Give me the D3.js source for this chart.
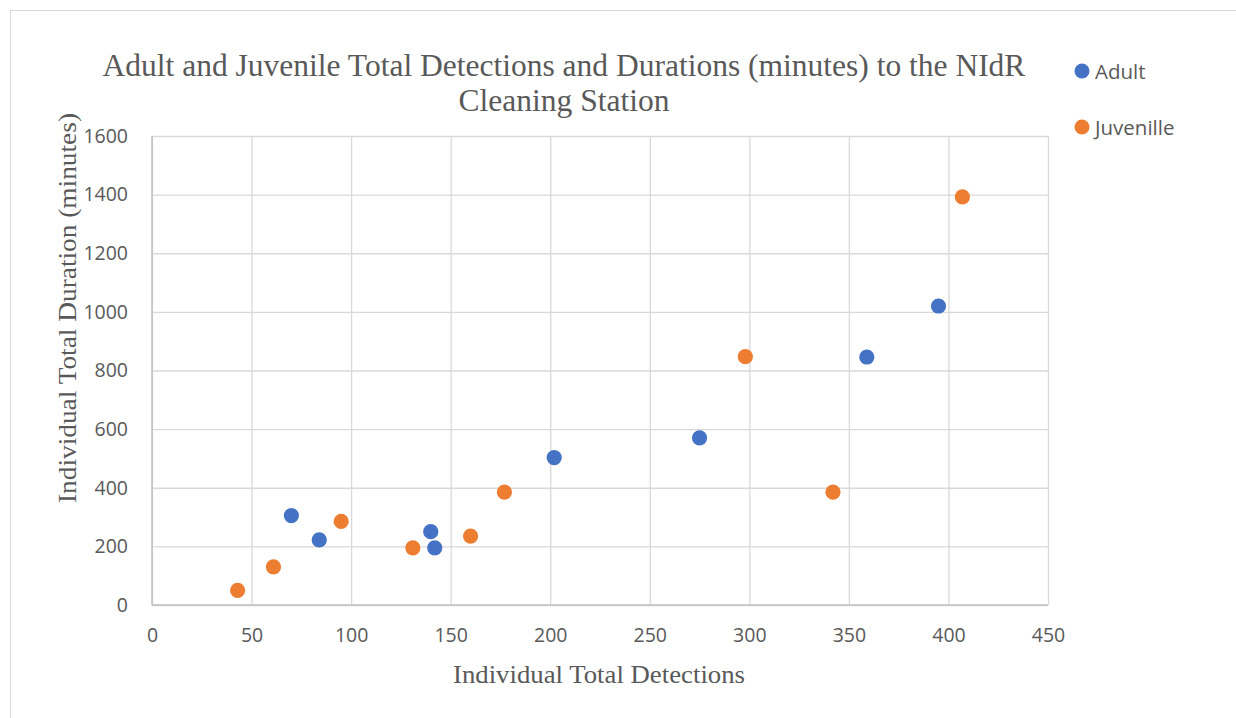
<!DOCTYPE html>
<html>
<head>
<meta charset="utf-8">
<script src="https://cdn.jsdelivr.net/npm/d3@7"></script>
<style>
  html, body { margin: 0; padding: 0; background: #fff; }
  svg { display: block; }
</style>
</head>
<body>
<svg id="chart" width="1236" height="718"></svg>
<script>
const titleLines = ["Adult and Juvenile Total Detections and Durations (minutes) to the NIdR", "Cleaning Station"];
const xTitle = "Individual Total Detections";
const yTitle = "Individual Total Duration (minutes)";
const seriesNames = ["Adult", "Juvenille"];
const seriesColors = ["#4472C4", "#ED7D31"];
const adultX = [70, 84, 140, 142, 202, 275, 359, 395];
const adultY = [305, 222, 250, 195, 503, 570, 846, 1020];
const juvX = [43, 61, 95, 131, 160, 177, 298, 342, 407];
const juvY = [50, 130, 285, 195, 235, 385, 847, 385, 1392];
const xTicks = [0, 50, 100, 150, 200, 250, 300, 350, 400, 450];
const yTicks = [0, 200, 400, 600, 800, 1000, 1200, 1400, 1600];

const svg = d3.select("#chart");
const plot = { left: 152, right: 1048, top: 136, bottom: 605 };
const x = d3.scaleLinear().domain([0, 450]).range([plot.left, plot.right]);
const y = d3.scaleLinear().domain([0, 1600]).range([plot.bottom, plot.top]);
const textColor = "#595959";
const sans = "'Open Sans', 'Liberation Sans', sans-serif";
const serif = "'Liberation Serif', 'Times New Roman', serif";

// chart border
svg.append("rect").attr("x", 10.5).attr("y", 10.5).attr("width", 1240).attr("height", 720)
  .attr("fill", "#fff").attr("stroke", "#d9d9d9").attr("stroke-width", 1);

// gridlines
const grid = svg.append("g");
grid.append("g").attr("transform", `translate(0,${plot.bottom})`)
  .call(d3.axisBottom(x).tickValues(xTicks).tickSize(-(plot.bottom - plot.top)).tickFormat(""))
  .call(g => g.select(".domain").remove())
  .call(g => g.selectAll("line").attr("stroke", "#d9d9d9").attr("stroke-width", 1.3));
grid.append("g").attr("transform", `translate(${plot.left},0)`)
  .call(d3.axisLeft(y).tickValues(yTicks).tickSize(-(plot.right - plot.left)).tickFormat(""))
  .call(g => g.select(".domain").remove())
  .call(g => g.selectAll("line").attr("stroke", "#d9d9d9").attr("stroke-width", 1.3));

// axis lines
svg.append("line").attr("x1", plot.left).attr("x2", plot.right).attr("y1", plot.bottom).attr("y2", plot.bottom)
  .attr("stroke", "#bfbfbf").attr("stroke-width", 1.5);
svg.append("line").attr("x1", plot.left).attr("x2", plot.left).attr("y1", plot.top).attr("y2", plot.bottom)
  .attr("stroke", "#bfbfbf").attr("stroke-width", 1.5);

// tick labels
const xAxis = svg.append("g").attr("transform", `translate(0,${plot.bottom})`)
  .call(d3.axisBottom(x).tickValues(xTicks).tickSize(0).tickPadding(23).tickFormat(d3.format("d")));
xAxis.select(".domain").remove();
xAxis.selectAll("text").attr("fill", textColor).style("font-family", sans).style("font-size", "19.5px");

const yAxis = svg.append("g").attr("transform", `translate(${plot.left},0)`)
  .call(d3.axisLeft(y).tickValues(yTicks).tickSize(0).tickPadding(24).tickFormat(d3.format("d")));
yAxis.select(".domain").remove();
yAxis.selectAll("text").attr("fill", textColor).style("font-family", sans).style("font-size", "19.5px");

// title
svg.append("g").selectAll("text").data(titleLines).join("text")
  .attr("x", 564).attr("y", (d, i) => 76 + i * 35)
  .attr("text-anchor", "middle").attr("fill", textColor)
  .style("font-family", serif).style("font-size", "31.5px")
  .text(d => d);

// axis titles
svg.append("text").attr("x", 599).attr("y", 683).attr("text-anchor", "middle")
  .attr("fill", textColor).style("font-family", serif).style("font-size", "25px")
  .attr("textLength", 292).attr("lengthAdjust", "spacingAndGlyphs").text(xTitle);
svg.append("text").attr("transform", "translate(76,308) rotate(-90)").attr("text-anchor", "middle")
  .attr("fill", textColor).style("font-family", serif).style("font-size", "25px")
  .attr("textLength", 390).attr("lengthAdjust", "spacingAndGlyphs").text(yTitle);

// points
const series = [
  { name: seriesNames[0], color: seriesColors[0], pts: adultX.map((v, i) => [v, adultY[i]]) },
  { name: seriesNames[1], color: seriesColors[1], pts: juvX.map((v, i) => [v, juvY[i]]) }
];
series.forEach(s => {
  svg.append("g").selectAll("circle").data(s.pts).join("circle")
    .attr("cx", d => x(d[0])).attr("cy", d => y(d[1])).attr("r", 7.6)
    .attr("fill", s.color);
});

// legend
const leg = svg.append("g").selectAll("g").data(series).join("g")
  .attr("transform", (d, i) => `translate(1082,${71 + i * 56})`);
leg.append("circle").attr("r", 7.5).attr("fill", d => d.color);
leg.append("text").attr("x", 13).attr("y", 7.5).attr("fill", textColor)
  .style("font-family", sans).style("font-size", "20.5px").text(d => d.name);
</script>
</body>
</html>
